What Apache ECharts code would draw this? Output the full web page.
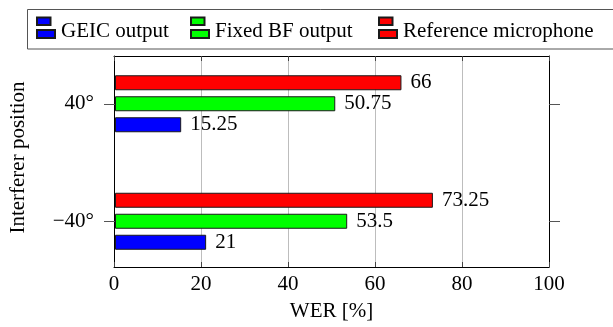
<!DOCTYPE html>
<html>
<head>
<meta charset="utf-8">
<script src="https://cdn.jsdelivr.net/npm/echarts@6/dist/echarts.min.js"></script>
<style>html,body{margin:0;padding:0;background:#fff;}#c{width:613px;height:327px;}</style>
</head>
<body>
<div id="c"></div>
<script>
var categories = ['\u221240\u00b0', '40\u00b0'];
var seriesNames = ['GEIC output', 'Fixed BF output', 'Reference microphone'];
var geic = [21, 15.25];
var fixedBF = [53.5, 50.75];
var refMic = [73.25, 66];
var xTicks = [0, 20, 40, 60, 80, 100];

var FONT = 'Liberation Serif';
var FS = 21;
var colors = ['#0000ff', '#00ff00', '#ff0000'];
var values = [geic, fixedBF, refMic];
var icon = 'path://M0,0L13.5,0L13.5,7.5L0,7.5Z M0,12.5L18,12.5L18,20.5L0,20.5Z';

var chart = echarts.init(document.getElementById('c'), null, {renderer: 'canvas'});
var legendLefts = [36, 190, 378];
var legends = seriesNames.map(function (n, i) {
  return {
    data: [n], left: legendLefts[i], top: 16.5, orient: 'horizontal',
    itemWidth: 18, itemHeight: 20.5, icon: icon, itemGap: 0, padding: 0,
    formatter: '{t|{name}}',
    textStyle: {fontFamily: FONT, fontSize: FS, color: '#000',
      rich: {t: {fontFamily: FONT, fontSize: FS, color: '#000', padding: [7, 0, 0, 1]}}},
    selectedMode: false
  };
});

// bars are stacked top-to-bottom in series order, so draw the reference first
var order = [2, 1, 0];

var option = {
  animation: false,
  backgroundColor: '#fff',
  legend: legends,
  graphic: [{
    type: 'rect', shape: {x: 27.5, y: 9.5, width: 620, height: 39.5},
    style: {fill: 'none', stroke: '#555', lineWidth: 1}, silent: true
  }],
  grid: [
    {left: 114, top: 56, width: 435, height: 212},
    {left: 114, top: 45, width: 435, height: 235}
  ],
  xAxis: [
    {type: 'value', gridIndex: 0, min: xTicks[0], max: xTicks[xTicks.length - 1], interval: 20,
     position: 'bottom',
     name: 'WER [%]', nameLocation: 'middle', nameGap: 34,
     nameTextStyle: {fontFamily: FONT, fontSize: FS, color: '#000'},
     axisLine: {show: true, onZero: false, lineStyle: {color: '#000', width: 1}},
     axisTick: {show: true, inside: true, length: 5, lineStyle: {color: '#444'}},
     axisLabel: {fontFamily: FONT, fontSize: FS, color: '#000', margin: 7},
     splitLine: {show: true, showMinLine: false, showMaxLine: false, lineStyle: {color: '#bdbdbd', width: 1}}},
    {type: 'value', gridIndex: 0, min: 0, max: 100, interval: 20, position: 'top',
     axisLine: {show: true, onZero: false, lineStyle: {color: '#000', width: 1}},
     axisTick: {show: true, inside: true, length: 5, lineStyle: {color: '#444'}},
     axisLabel: {show: false}, splitLine: {show: false}},
    {type: 'value', gridIndex: 1, min: 0, max: 100, show: false}
  ],
  yAxis: [
    {type: 'value', gridIndex: 0, min: 0, max: 1, position: 'left',
     axisLine: {show: true, onZero: false, lineStyle: {color: '#000', width: 1}},
     axisTick: {show: false}, axisLabel: {show: false}, splitLine: {show: false}},
    {type: 'value', gridIndex: 0, min: 0, max: 1, position: 'right',
     axisLine: {show: true, onZero: false, lineStyle: {color: '#000', width: 1}},
     axisTick: {show: false}, axisLabel: {show: false}, splitLine: {show: false}},
    {type: 'category', gridIndex: 1, data: categories, position: 'left',
     name: 'Interferer position', nameLocation: 'middle', nameGap: 86, nameRotate: 90,
     nameTextStyle: {fontFamily: FONT, fontSize: FS, color: '#000', padding: [0, 0, 0, 10]},
     axisLine: {show: false},
     axisTick: {show: true, alignWithLabel: true, length: 11, lineStyle: {color: '#555'}},
     axisLabel: {fontFamily: FONT, fontSize: FS, color: '#000', margin: 21},
     splitLine: {show: false}},
    {type: 'category', gridIndex: 1, data: categories, position: 'right',
     axisLine: {show: false},
     axisTick: {show: true, alignWithLabel: true, length: 11, lineStyle: {color: '#555'}},
     axisLabel: {show: false}, splitLine: {show: false}}
  ],
  series: order.map(function (i) {
    return {
      name: seriesNames[i], type: 'bar', xAxisIndex: 2, yAxisIndex: 2,
      data: values[i], barWidth: 15, barGap: '40%',
      itemStyle: {color: colors[i], borderColor: '#1a1a1a', borderWidth: 1},
      label: {show: true, position: 'right', distance: 9,
              fontFamily: FONT, fontSize: FS, color: '#000'}
    };
  })
};
chart.setOption(option);
</script>
</body>
</html>
